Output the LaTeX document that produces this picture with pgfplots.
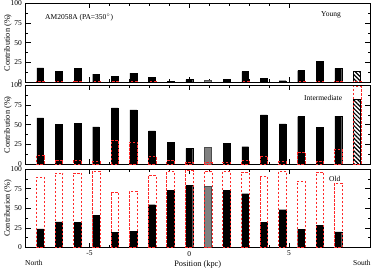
\documentclass[border=0pt]{standalone}
\usepackage{fontspec}
\setmainfont{Liberation Serif}
\usepackage{pgfplots}
\pgfplotsset{compat=1.18}
\usetikzlibrary{patterns,patterns.meta}
\definecolor{boxred}{RGB}{255,40,40}
\pgfplotsset{
  panel/.style={
    at={(25.5pt,#1)}, anchor=south west, scale only axis,
    width=344.5pt, height=78.5pt,
    xmin=-8.2, xmax=9.05, ymin=0, ymax=100,
    ytick={0,25,50,75,100}, minor y tick num=1,
    xtick={-5,0,5}, minor x tick num=4,
    major tick length=5pt, minor tick length=2.5pt,
    tick style={black, line width=0.5pt},
    axis line style={line width=0.7pt},
    tick label style={font=\fontsize{7.5}{8}\selectfont},
    /pgf/number format/assume math mode=true,
    ylabel={Contribution (\%)},
    ylabel style={at={(axis description cs:-0.0508,0.5)}, anchor=center, font=\fontsize{8.3}{9}\selectfont},
  },
  blk/.style={ybar, bar shift=0pt, bar width=0.34, fill=black, draw=black, line width=0.3pt},
  gry/.style={ybar, bar shift=0pt, bar width=0.34, fill=gray, draw=black!70, line width=0.3pt},
  hat/.style={ybar, bar shift=0pt, bar width=0.34, draw=black, line width=0.4pt,
     pattern={Lines[angle=-45, distance=3pt, line width=1.2pt]}},
  rbox/.style={ybar, bar shift=0pt, bar width=0.39, fill=none, draw=boxred, line width=0.5pt, dash pattern=on 2.5pt off 1.5pt},
}
\begin{document}
\begin{tikzpicture}
% ---------------- Young ----------------
\begin{axis}[panel={186pt}, xticklabels={}]
\addplot[blk] coordinates {(-7.464,18.0) (-6.531,13.3) (-5.598,17.6) (-4.665,9.9) (-3.732,7.3) (-2.799,11.2) (-1.866,6.0) (-0.933,0.5) (0,3.0) (1.866,3.4) (2.799,13.3) (3.732,4.7) (4.665,1.7) (5.598,14.6) (6.531,26.6) (7.464,17.2)};
\addplot[gry] coordinates {(0.933,2.0)};
\addplot[hat] coordinates {(8.397,13.7)};
\addplot[rbox] coordinates {(-7.464,0.8) (-6.531,0.8) (-5.598,0.8) (-4.665,0.5) (-3.732,0.5) (-2.799,0.5) (-1.866,0.5) (-0.933,0.3) (0,0.3) (0.933,0.3) (1.866,0.3) (2.799,0.5) (3.732,0.3) (4.665,0.3) (5.598,0.5) (6.531,0.8) (7.464,0.8) (8.397,0.8)};
\end{axis}
% ---------------- Intermediate ----------------
\begin{axis}[panel={104pt}, xticklabels={}]
\addplot[blk] coordinates {(-7.464,58.7) (-6.531,50.2) (-5.598,51.9) (-4.665,47.2) (-3.732,71.5) (-2.799,68.9) (-1.866,42.1) (-0.933,27.2) (0,20.0) (1.866,26.0) (2.799,22.1) (3.732,62.6) (4.665,51.0) (5.598,60.4) (6.531,46.4) (7.464,60.9)};
\addplot[gry] coordinates {(0.933,22.1)};
\addplot[hat] coordinates {(8.397,82.1)};
\addplot[rbox] coordinates {(-7.464,10.6) (-6.531,5.1) (-5.598,5.1) (-4.665,3.0) (-3.732,29.8) (-2.799,28.0) (-1.866,9.4) (-0.933,4.3) (0,2.0) (0.933,1.7) (1.866,2.5) (2.799,4.3) (3.732,10.2) (4.665,3.0) (5.598,15.3) (6.531,3.0) (7.464,18.3) (8.397,99.0)};
\end{axis}
% ---------------- Old ----------------
\begin{axis}[panel={20.5pt}, xlabel={Position (kpc)},
  xlabel style={font=\fontsize{8.3}{9}\selectfont, yshift=2.5pt}]
\addplot[blk] coordinates {(-7.464,23.8) (-6.531,32.8) (-5.598,32.3) (-4.665,41.3) (-3.732,19.6) (-2.799,20.9) (-1.866,54.5) (-0.933,73.2) (0,79.1) (1.866,73.2) (2.799,68.5) (3.732,32.3) (4.665,48.1) (5.598,23.4) (6.531,28.1) (7.464,20.0)};
\addplot[gry] coordinates {(0.933,78.7)};
\addplot[rbox] coordinates {(-7.464,89.4) (-6.531,94.9) (-5.598,94.9) (-4.665,97.4) (-3.732,70.6) (-2.799,71.9) (-1.866,91.5) (-0.933,96.6) (0,97.9) (0.933,97.0) (1.866,97.0) (2.799,95.7) (3.732,90.2) (4.665,97.0) (5.598,84.7) (6.531,95.7) (7.464,82.1)};
\end{axis}
% ---------------- text ----------------
\begin{scope}[every node/.style={font=\fontsize{7.5}{8}\selectfont, inner sep=0pt}]
\node[anchor=west] at (45pt,250pt) {AM2058A (PA=350$^{\circ}$)};
\node[anchor=west] at (321pt,253pt) {Young};
\node[anchor=west] at (304pt,170.5pt) {Intermediate};
\node[anchor=west] at (329pt,89pt) {Old};
\node[anchor=west] at (25pt,5.5pt) {North};
\node[anchor=west] at (353pt,5.5pt) {South};
\end{scope}
\pgfresetboundingbox
\path[use as bounding box] (0,0) rectangle (374pt,268pt);
\end{tikzpicture}
\end{document}
